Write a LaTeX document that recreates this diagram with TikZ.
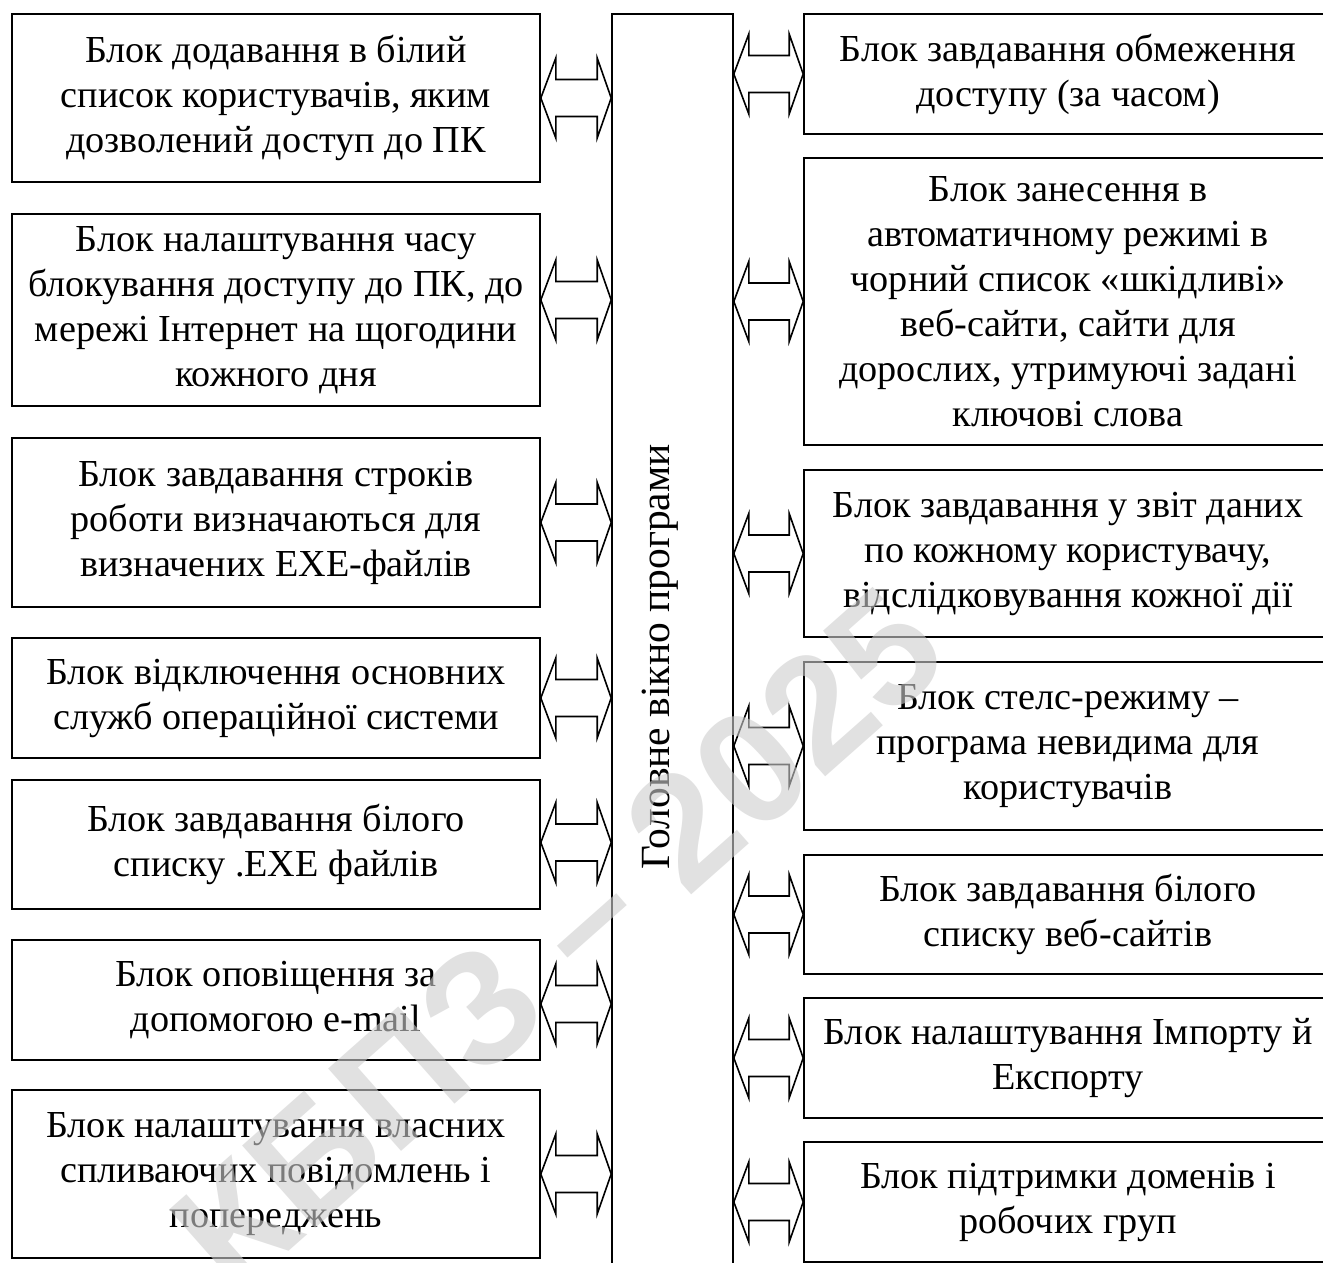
\documentclass[tikz,border=0pt]{standalone}
\usepackage{fontspec}
\setmainfont{Liberation Serif}
\newfontfamily\blkfont{Liberation Serif}
\newfontfamily\wmfont{Liberation Sans}
\usetikzlibrary{calc}
\definecolor{wmgray}{RGB}{205,205,205}
\newcommand\dblarr[2]{%
  \draw[barr] (#1) -- ++(15,40) -- ++(0,-21.5) -- ($(#2)+(-14,18.5)$) -- ++(0,21.5) -- (#2)
    -- ++(-14,-40) -- ++(0,21.5) -- ($(#1)+(15,-18.5)$) -- ++(0,-21.5) -- cycle;}
\tikzset{
  blk/.style={draw, line width=1.6pt, minimum width=528pt, inner sep=0pt,
    align=center, font=\blkfont\fontsize{38.2}{45}\selectfont},
  barr/.style={draw, line width=1.6pt, line join=miter},
}
\begin{document}
\begin{tikzpicture}[x=1pt,y=-1pt]
\clip (0,0) rectangle (1323,1263);
\fill[white] (0,0) rectangle (1323,1263);
% central box
\node[draw, line width=1.6pt, minimum width=121pt, minimum height=1276pt, inner sep=0pt] (main) at (672.5,652) {};
\node[rotate=90, font=\blkfont\fontsize{41.5}{45}\selectfont] (maintext) at (660,657) {Головне вікно програми};
% left boxes
\node[blk, minimum height=168pt] (L1) at (276,98) {Блок додавання в білий\\список користувачів, яким\\дозволений доступ до ПК};
\node[blk, minimum height=192pt] (L2) at (276,310) {Блок налаштування часу\\блокування доступу до ПК, до\\мережі Інтернет на щогодини\\кожного дня};
\node[blk, minimum height=169pt] (L3) at (276,522.5) {Блок завдавання строків\\роботи визначаються для\\визначених EXE-файлів};
\node[blk, minimum height=120pt] (L4) at (276,698) {Блок відключення основних\\служб операційної системи};
\node[blk, minimum height=129pt] (L5) at (276,844.5) {Блок завдавання білого\\списку .EXE файлів};
\node[blk, minimum height=120pt] (L6) at (276,1000) {Блок оповіщення за\\допомогою e-mail};
\node[blk, minimum height=168pt] (L7) at (276,1174) {Блок налаштування власних\\спливаючих повідомлень і\\попереджень};
% right boxes
\node[blk, minimum height=120pt] (R1) at (1068,74) {Блок завдавання обмеження\\доступу (за часом)};
\node[blk, minimum height=287pt] (R2) at (1068,301.5) {Блок занесення в\\автоматичному режимі в\\чорний список «шкідливі»\\веб-сайти, сайти для\\дорослих, утримуючі задані\\ключові слова};
\node[blk, minimum height=167pt] (R3) at (1068,553.5) {Блок завдавання у звіт даних\\по кожному користувачу,\\відслідковування кожної дії};
\node[blk, minimum height=168pt] (R4) at (1068,746) {Блок стелс-режиму –\\програма невидима для\\користувачів};
\node[blk, minimum height=119pt] (R5) at (1068,914.5) {Блок завдавання білого\\списку веб-сайтів};
\node[blk, minimum height=120pt] (R6) at (1068,1058) {Блок налаштування Імпорту й\\Експорту};
\node[blk, minimum height=120pt] (R7) at (1068,1202) {Блок підтримки доменів і\\робочих груп};
% arrows
\foreach \n/\dy in {L1/0,L2/-10,L3/0,L4/0,L5/-2,L6/4,L7/0}{
  \coordinate (\n a) at ($(\n.east)+(0,\dy)$);
  \dblarr{\n a}{main.west |- \n a}
}
\foreach \n in {R1,R2,R3,R4,R5,R6,R7}{
  \dblarr{main.east |- \n.west}{\n.west}
}
% watermark
\node[rotate=41.5, text=wmgray, opacity=0.6, font=\fontsize{160}{160}\selectfont\wmfont\bfseries] (wm) at (558,940) {КБПЗ – 2025};
\end{tikzpicture}
\end{document}
